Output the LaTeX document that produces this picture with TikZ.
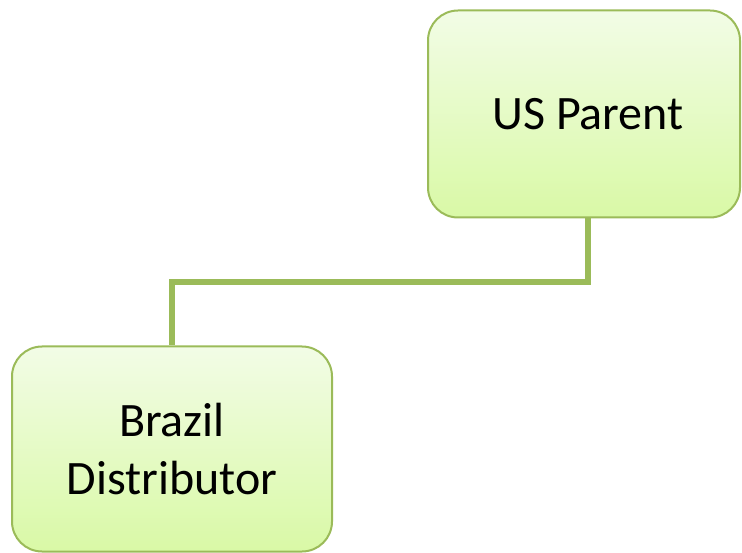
\documentclass[tikz,border=0pt]{standalone}
\usepackage{fontspec}
\setmainfont{Carlito}
\definecolor{edgegreen}{HTML}{9BBB59}
\definecolor{filltop}{HTML}{F2FCE6}
\definecolor{fillbot}{HTML}{D9F9A6}
\begin{document}
\begin{tikzpicture}[x=1pt,y=-1pt,
  orgbox/.style={draw=edgegreen, line width=2pt, rounded corners=30pt,
    top color=filltop, bottom color=fillbot, align=center,
    font=\fontsize{48}{58}\selectfont, text=black, inner sep=0pt},
  link/.style={draw=edgegreen, line width=6pt}]
\useasboundingbox (0,0) rectangle (742,553);
\node[orgbox, minimum width=312pt, minimum height=207pt] (us) at (584,114) {\hspace*{8pt}US Parent};
\node[orgbox, minimum width=320pt, minimum height=205pt] (br) at (172,449) {Brazil\\Distributor};
\draw[link] ([xshift=4pt]us.south) |- (172,282) -- (br.north);
\end{tikzpicture}
\end{document}
